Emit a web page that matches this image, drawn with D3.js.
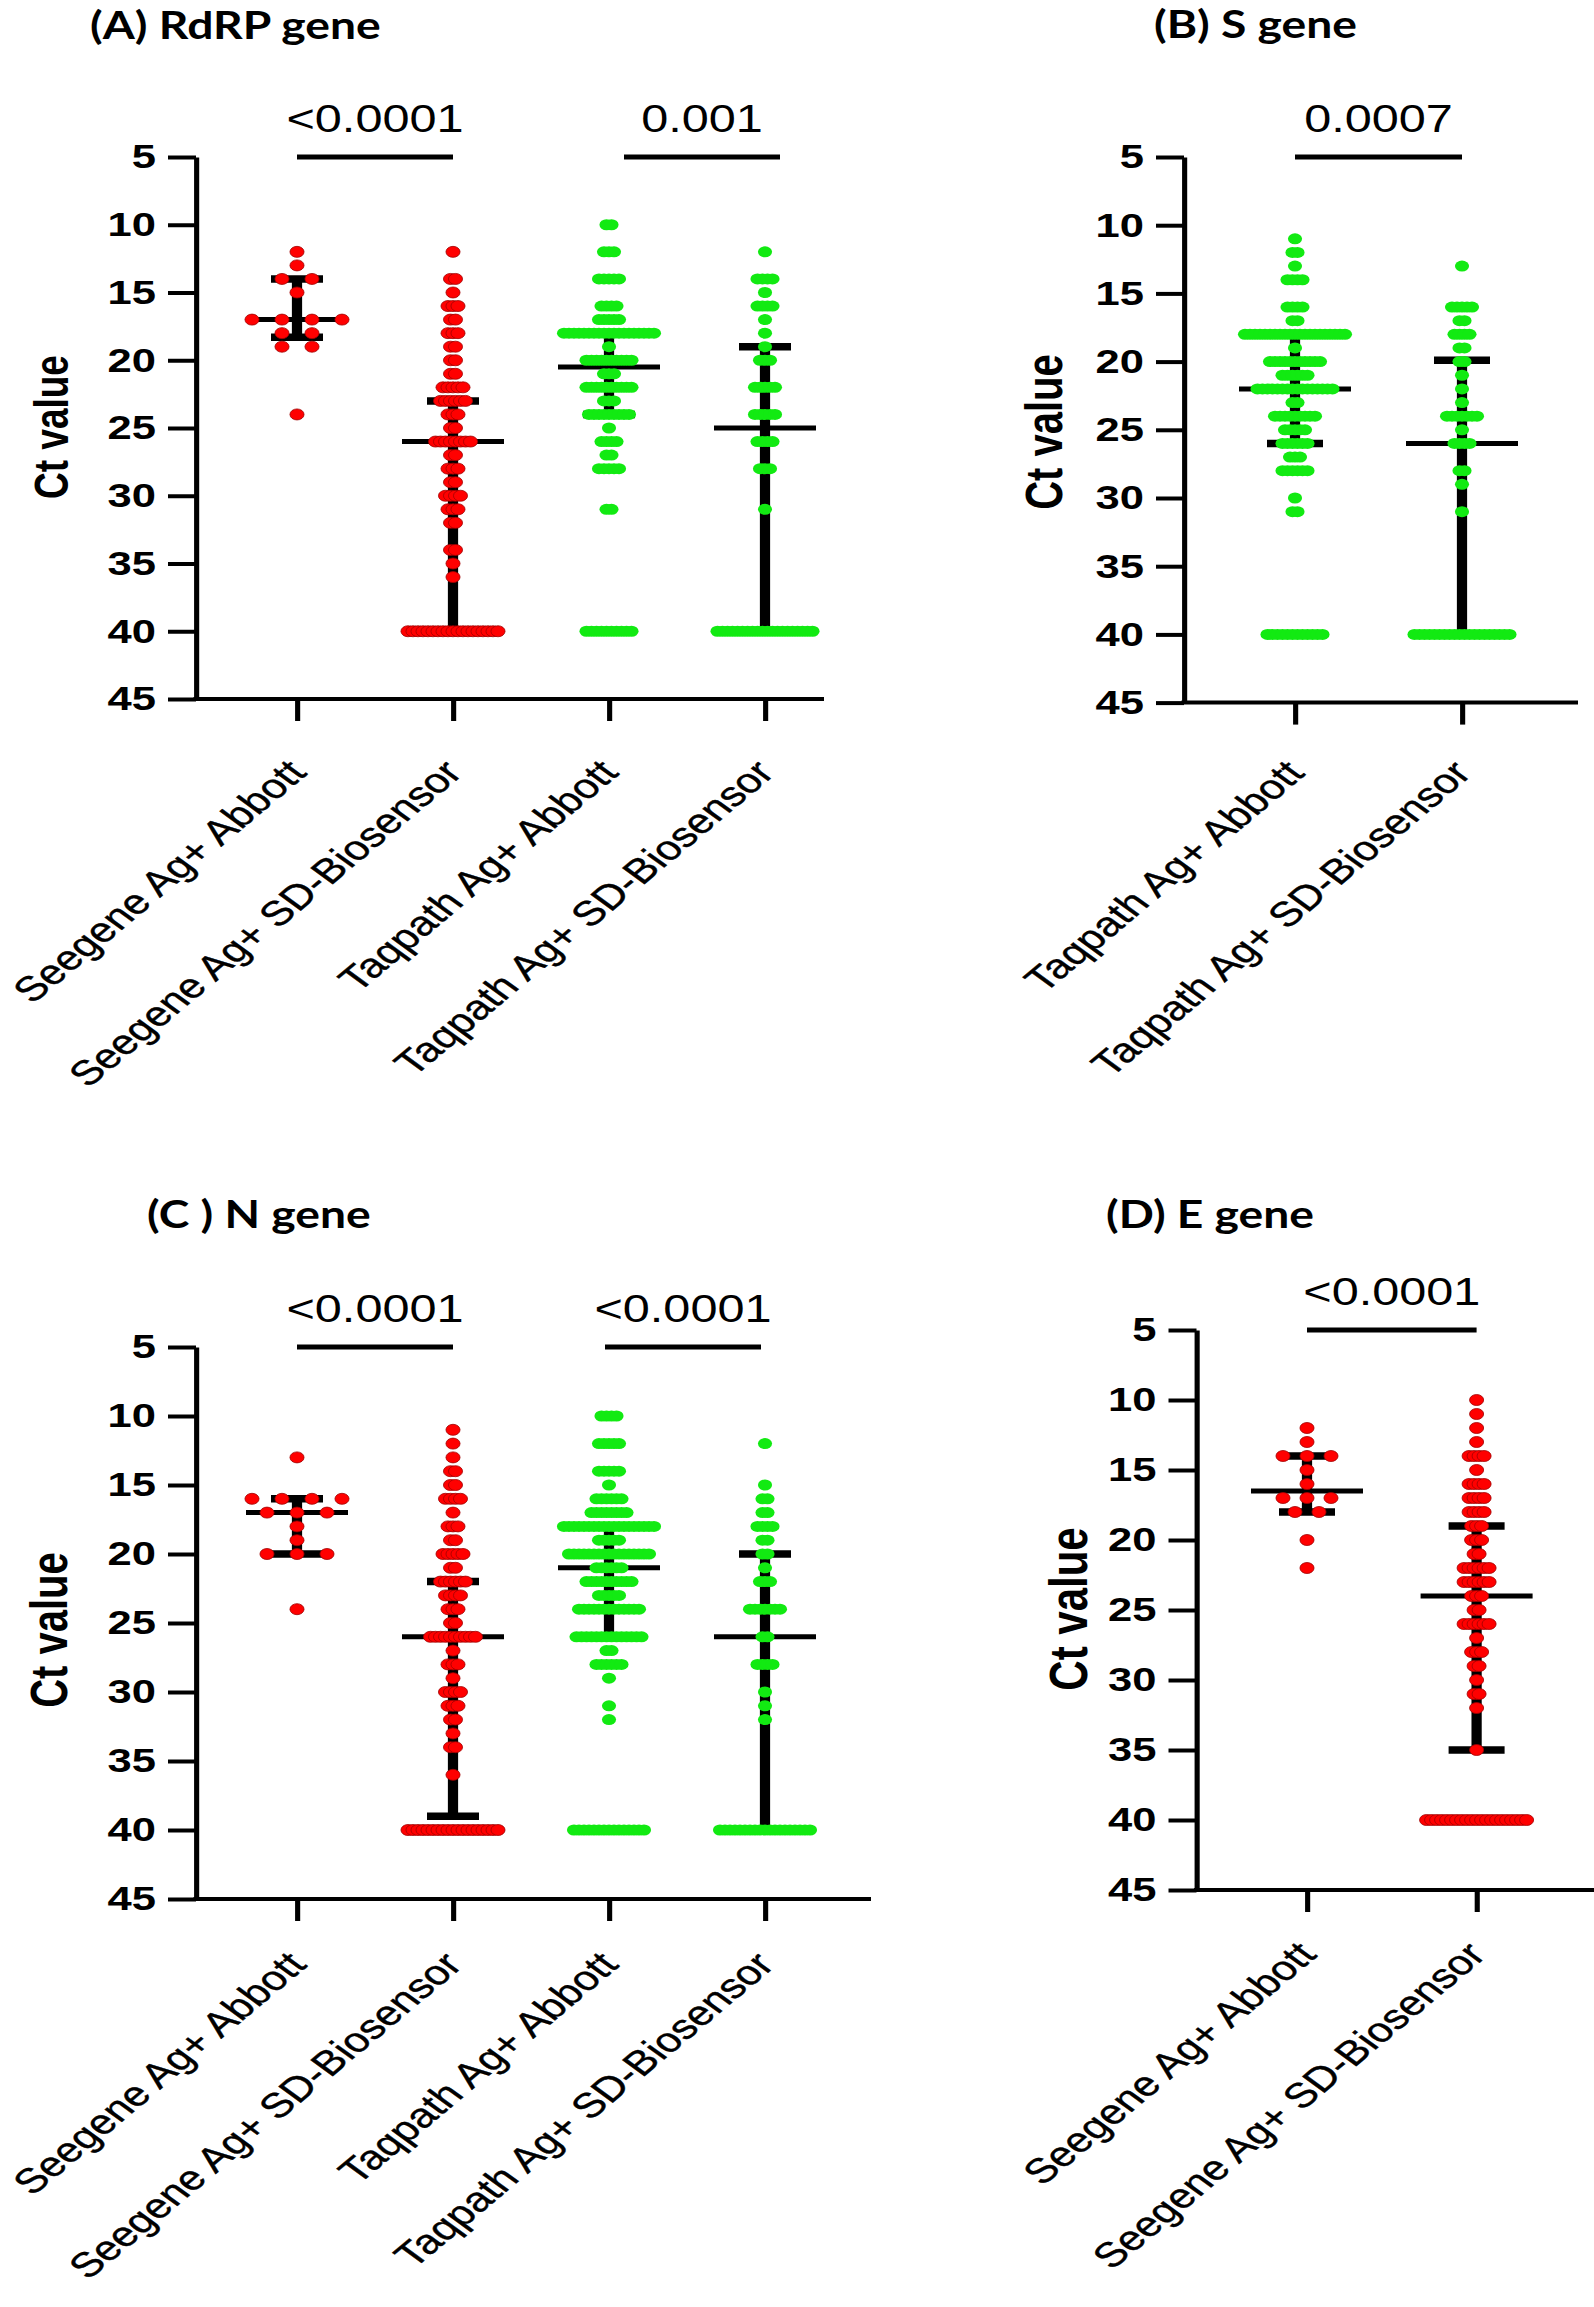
<!DOCTYPE html>
<html>
<head>
<meta charset="utf-8">
<script src="https://cdn.jsdelivr.net/npm/d3@7"></script>
<style>
  body { margin: 0; background: #fff; }
  text { font-family: "Liberation Sans", Arial, sans-serif; }
</style>
</head>
<body>
<svg id="chart" width="1594" height="2307"></svg>
<script>
// ---------- data ----------
const yTicks = [5, 10, 15, 20, 25, 30, 35, 40, 45];

const groupsFour = ["Seegene Ag+ Abbott", "Seegene Ag+ SD-Biosensor", "Taqpath Ag+ Abbott", "Taqpath Ag+ SD-Biosensor"];
const groupsTaqpath = ["Taqpath Ag+ Abbott", "Taqpath Ag+ SD-Biosensor"];
const groupsSeegene = ["Seegene Ag+ Abbott", "Seegene Ag+ SD-Biosensor"];

// each row: [Ct value, number of samples at that value]
const rdrpSeegeneAbbott = [[12,1],[13,1],[14,2],[15,1],[17,4],[18,2],[19,2],[24,1]];
const rdrpSeegeneSD = [[12,1],[14,2],[15,1],[16,3],[17,2],[18,3],[19,2],[20,2],[21,2],[22,5],[23,6],[24,3],[25,2],[26,8],[27,2],[28,3],[29,2],[30,4],[31,3],[32,2],[34,2],[35,1],[36,1],[40,19]];
const rdrpTaqpathAbbott = [[10,2],[12,3],[14,5],[16,4],[17,5],[18,19],[19,1],[20,10],[21,3],[22,10],[23,3],[24,9],[25,1],[26,4],[27,2],[28,5],[31,2],[40,10]];
const rdrpTaqpathSD = [[12,1],[14,4],[15,1],[16,4],[17,1],[18,1],[19,1],[20,3],[22,5],[24,5],[26,4],[28,3],[31,1],[40,20]];
const rdrpMedian = [17, 26, 20.5, 25];
const rdrpUpperQ = [14, 23, 18, 19];
const rdrpLowerQ = [18.3, 40, 24, 40];
const rdrpP = ["<0.0001", "0.001"];

const sTaqpathAbbott = [[11,1],[12,2],[13,1],[14,4],[16,4],[17,2],[18,21],[19,1],[20,11],[21,6],[22,16],[23,2],[24,9],[25,5],[26,6],[27,3],[28,6],[30,1],[31,2],[40,12]];
const sTaqpathSD = [[13,1],[16,5],[17,2],[18,4],[19,2],[20,2],[21,1],[22,1],[23,1],[24,7],[25,1],[26,4],[28,2],[29,1],[31,1],[40,20]];
const sMedian = [22, 26];
const sUpperQ = [18, 19.9];
const sLowerQ = [26, 40];
const sP = ["0.0007"];

const nSeegeneAbbott = [[13,1],[16,4],[17,3],[18,1],[19,1],[20,3],[24,1]];
const nSeegeneSD = [[11,1],[12,1],[13,1],[14,2],[15,2],[16,4],[17,1],[18,3],[19,2],[20,5],[21,2],[22,6],[23,4],[24,3],[25,2],[26,10],[27,1],[28,3],[29,1],[30,4],[31,3],[32,2],[33,1],[34,2],[36,1],[40,19]];
const nTaqpathAbbott = [[10,4],[12,5],[14,5],[15,1],[16,6],[17,8],[18,19],[19,5],[20,17],[21,6],[22,10],[23,5],[24,13],[26,14],[27,2],[28,6],[29,1],[31,1],[32,1],[40,15]];
const nTaqpathSD = [[12,1],[15,1],[16,2],[17,2],[18,4],[19,2],[20,2],[21,1],[22,3],[24,7],[26,2],[28,4],[30,1],[31,1],[32,1],[40,19]];
const nMedian = [17, 26, 21, 26];
const nUpperQ = [16, 22, 18, 20];
const nLowerQ = [20, 39, 26, 40];
const nP = ["<0.0001", "<0.0001"];

const eSeegeneAbbott = [[12,1],[13,1],[14,3],[15,1],[16,1],[17,3],[18,2],[20,1],[22,1]];
const eSeegeneSD = [[10,1],[11,1],[12,1],[13,1],[14,4],[15,1],[16,4],[17,4],[18,4],[19,3],[20,3],[21,2],[22,6],[23,6],[24,3],[25,2],[26,6],[27,1],[28,3],[29,2],[30,1],[31,2],[32,1],[35,1],[40,21]];
const eMedian = [16.5, 24];
const eUpperQ = [14, 19];
const eLowerQ = [18, 35];
const eP = ["<0.0001"];

// ---------- layout ----------
const SX = 1.28;            // the figure is stretched horizontally
const TITLE_SX = 1.2;
const RED = "#ff0000", GREEN = "#12ea12";
const colorOf = name => name.startsWith("Seegene") ? RED : GREEN;

const panels = [
  { title: "(A) RdRP gene", groups: groupsFour,
    series: [rdrpSeegeneAbbott, rdrpSeegeneSD, rdrpTaqpathAbbott, rdrpTaqpathSD],
    median: rdrpMedian, upper: rdrpUpperQ, lower: rdrpLowerQ,
    pairs: [[0, 1], [2, 3]], pLabels: rdrpP, pShift: [0, 15],
    axisX: 196, xEnd: 824, y5: 157, y45: 699, cats: [297, 765],
    titlePos: [90, 39], ctPos: [68, 427], ctSize: 37, labelDrop: 75,
    medHalf: 51, capHalf: 26, spread: [30, 5, 5, 5] },
  { title: "(B) S gene", groups: groupsTaqpath,
    series: [sTaqpathAbbott, sTaqpathSD],
    median: sMedian, upper: sUpperQ, lower: sLowerQ,
    pairs: [[0, 1]], pLabels: sP, pShift: [0],
    axisX: 1184, xEnd: 1578, y5: 157, y45: 702.6, cats: [1295, 1462],
    titlePos: [1154, 38], ctPos: [1062, 432], ctSize: 40, labelDrop: 72,
    medHalf: 56, capHalf: 28, spread: [5, 5] },
  { title: "(C ) N gene", groups: groupsFour,
    series: [nSeegeneAbbott, nSeegeneSD, nTaqpathAbbott, nTaqpathSD],
    median: nMedian, upper: nUpperQ, lower: nLowerQ,
    pairs: [[0, 1], [2, 3]], pLabels: nP, pShift: [0, -4],
    axisX: 196, xEnd: 871, y5: 1347, y45: 1899, cats: [297, 765],
    titlePos: [147, 1228], ctPos: [67, 1630], ctSize: 40, labelDrop: 67,
    medHalf: 51, capHalf: 26, spread: [30, 5, 5, 5] },
  { title: "(D) E gene", groups: groupsSeegene,
    series: [eSeegeneAbbott, eSeegeneSD],
    median: eMedian, upper: eUpperQ, lower: eLowerQ,
    pairs: [[0, 1]], pLabels: eP, pShift: [0],
    axisX: 1196.5, xEnd: 1594, y5: 1330, y45: 1890, cats: [1307, 1476.6],
    titlePos: [1106, 1228], ctPos: [1087, 1609], ctSize: 42, labelDrop: 66,
    medHalf: 56, capHalf: 28, spread: [24, 5] }
];

const svg = d3.select("#chart");
const nat = v => v / SX;   // screen x -> x inside the stretched group

function drawPanel(p) {
  // title (its own, milder stretch)
  svg.append("g").attr("transform", `scale(${TITLE_SX},1)`)
    .append("text")
    .attr("x", p.titlePos[0] / TITLE_SX).attr("y", p.titlePos[1])
    .style("font-family", "Lato, 'Open Sans', sans-serif")
    .attr("font-weight", "bold").attr("font-size", 38.5)
    .text(p.title);

  const g = svg.append("g").attr("transform", `scale(${SX},1)`);

  const x = d3.scalePoint().domain(p.groups).range([nat(p.cats[0]), nat(p.cats[1])]);
  const y = d3.scaleLinear().domain([5, 45]).range([p.y5, p.y45]);

  // y axis
  const yAxis = g.append("g")
    .attr("transform", `translate(${nat(p.axisX)},0)`)
    .call(d3.axisLeft(y).tickValues(yTicks).tickSize(nat(28)).tickSizeOuter(0).tickPadding(nat(12)));
  yAxis.select(".domain").attr("stroke", "#000").attr("stroke-width", 4);
  yAxis.selectAll(".tick line").attr("stroke", "#000").attr("stroke-width", 4);
  yAxis.selectAll(".tick text")
    .attr("font-size", 34).attr("font-weight", "bold").attr("fill", "#000")
    .style("font-family", "'Liberation Sans', Arial, sans-serif");

  // x axis: full-length baseline plus category ticks
  g.append("line")
    .attr("x1", nat(p.axisX) - 2).attr("x2", nat(p.xEnd))
    .attr("y1", y(45)).attr("y2", y(45))
    .attr("stroke", "#000").attr("stroke-width", 4);
  const xAxis = g.append("g")
    .attr("transform", `translate(0,${y(45)})`)
    .call(d3.axisBottom(x).tickSize(22).tickFormat(""));
  xAxis.select(".domain").remove();
  xAxis.selectAll(".tick line").attr("stroke", "#000").attr("stroke-width", 4);

  // rotated category labels
  g.selectAll(".cat").data(p.groups).join("text")
    .attr("class", "cat")
    .attr("transform", d => `translate(${x(d) + nat(11)},${y(45) + p.labelDrop}) rotate(-47)`)
    .attr("text-anchor", "end").attr("font-size", 34.5)
    .attr("stroke", "#000").attr("stroke-width", 0.4)
    .text(d => d);

  // Ct value label
  g.append("text")
    .attr("transform", `translate(${nat(p.ctPos[0])},${p.ctPos[1]}) rotate(-90)`)
    .attr("text-anchor", "middle").attr("font-weight", "bold").attr("font-size", p.ctSize)
    .text("Ct value");

  // error bars: median with interquartile range
  const stats = p.groups.map((name, i) => ({ name, med: p.median[i], up: p.upper[i], lo: p.lower[i] }));
  const eb = g.append("g").attr("stroke", "#000");
  eb.selectAll(".whisker").data(stats).join("line")
    .attr("x1", d => x(d.name)).attr("x2", d => x(d.name))
    .attr("y1", d => y(d.up)).attr("y2", d => y(d.lo))
    .attr("stroke-width", 8);
  ["up", "lo"].forEach(k => {
    eb.selectAll(".cap-" + k).data(stats).join("line")
      .attr("x1", d => x(d.name) - nat(p.capHalf)).attr("x2", d => x(d.name) + nat(p.capHalf))
      .attr("y1", d => y(d[k])).attr("y2", d => y(d[k]))
      .attr("stroke-width", 7.5);
  });
  eb.selectAll(".median").data(stats).join("line")
    .attr("x1", d => x(d.name) - nat(p.medHalf)).attr("x2", d => x(d.name) + nat(p.medHalf))
    .attr("y1", d => y(d.med)).attr("y2", d => y(d.med))
    .attr("stroke-width", 5);

  // dots, spread sideways where several samples share a value
  const dots = [];
  p.series.forEach((rows, gi) => {
    rows.forEach(([ct, count]) => {
      for (let i = 0; i < count; i++) {
        dots.push({ name: p.groups[gi], ct, off: (i - (count - 1) / 2) * p.spread[gi] });
      }
    });
  });
  g.append("g").selectAll("circle").data(dots).join("circle")
    .attr("cx", d => x(d.name) + nat(d.off))
    .attr("cy", d => y(d.ct))
    .attr("r", 5.5)
    .attr("fill", d => colorOf(d.name))
    .attr("stroke", d => colorOf(d.name) === RED ? "#a00000" : "none")
    .attr("stroke-width", 0.7);

  // significance brackets
  p.pairs.forEach(([a, b], i) => {
    const x1 = x(p.groups[a]) + nat(p.pShift[i]);
    const x2 = x(p.groups[b]) + nat(p.pShift[i]);
    g.append("line")
      .attr("x1", x1).attr("x2", x2).attr("y1", y(5)).attr("y2", y(5))
      .attr("stroke", "#000").attr("stroke-width", 5);
    g.append("text")
      .attr("x", (x1 + x2) / 2).attr("y", y(5) - 25)
      .attr("text-anchor", "middle").attr("font-size", 38)
      .text(p.pLabels[i]);
  });
}

panels.forEach(drawPanel);
</script>
</body>
</html>
